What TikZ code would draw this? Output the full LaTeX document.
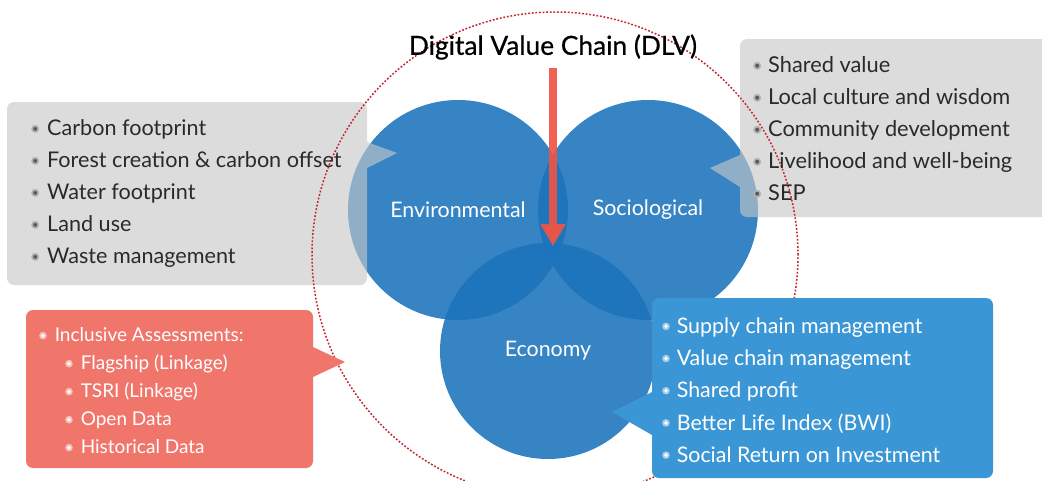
\documentclass[tikz,border=0pt]{standalone}
\usepackage{fontspec}
\setmainfont{Lato}
\newfontfamily\titlefont{Lato}[FakeBold=0.7]
\usetikzlibrary{arrows.meta}
\definecolor{vennblue}{HTML}{1C74BC}
\definecolor{boxblue}{HTML}{3A96D5}
\definecolor{boxred}{HTML}{F0766C}
\definecolor{boxgray}{HTML}{C8C8C8}
\definecolor{arrowred}{HTML}{EE5546}
\definecolor{dashred}{HTML}{C4262E}
\definecolor{textdark}{HTML}{2A2A2A}
\newcommand\gbul{\tikz[baseline=-0.33em]{\fill[black!30] (0,0) circle (4pt); \fill[black!65] (0,0) circle (2pt);}}
\newcommand\wbul{\tikz[baseline=-0.33em]{\fill[white, opacity=0.55] (0,0) circle (3.8pt); \fill[white] (0,0) circle (1.9pt);}}
\tikzset{
  venn/.style={circle, fill=vennblue, fill opacity=0.88, text opacity=1, text=white, inner sep=0pt,
    font=\fontsize{21.4}{24}\selectfont},
  graycall/.style={fill=boxgray, fill opacity=0.62},
  redcall/.style={fill=boxred},
  bluecall/.style={fill=boxblue},
  darklist/.style={align=left, inner sep=0pt, text=textdark, anchor=west},
  lightlist/.style={align=left, inner sep=0pt, text=white, anchor=west},
  dashring/.style={draw=dashred, line width=1.5pt, dash pattern=on 1.8pt off 1.8pt},
  dlvarrow/.style={draw=arrowred, line width=8pt, opacity=0.92, -{Triangle[width=24pt,length=22pt]}}
}
\begin{document}
\begin{tikzpicture}[x=1pt,y=-1pt]
\useasboundingbox (0,0) rectangle (1042,480);
\clip (0,0) rectangle (1042,480);
\fill[white] (0,0) rectangle (1042,480);

% Venn circles
\node[venn, minimum size=220pt] (env) at (458,210) {Environmental};
\node[venn, minimum size=220pt] (soc) at (648,210) {Sociological};
\node[venn, minimum size=216pt] (eco) at (548,351) {Economy};

% gray callouts (translucent)
\fill[graycall] (7,190) [rounded corners=7pt] -- (7,102) -- (367,102) [sharp corners] -- (367,142) -- (397,153) -- (367,168) [rounded corners=7pt] -- (367,285) -- (7,285) -- cycle;
\fill[graycall] (1060,120) [rounded corners=7pt] -- (1060,39) -- (740,39) [sharp corners] -- (740,155) -- (710,168) -- (740,187) [rounded corners=7pt] -- (740,217) -- (1060,217) -- cycle;

% dashed ring
\draw[dashring] (555,255) circle (243pt);

% red and blue callouts
\fill[redcall] (26,390) [rounded corners=7pt] -- (26,310) -- (313,310) [sharp corners] -- (313,347) -- (345,362) -- (313,377) [rounded corners=7pt] -- (313,468) -- (26,468) -- cycle;
\fill[bluecall] (800,298) [rounded corners=7pt] -- (993,298) -- (993,478) -- (652,478) [sharp corners] -- (652,435) -- (612,412) -- (652,392) [rounded corners=7pt] -- (652,298) -- cycle;

% title and arrow
\node[font=\titlefont\fontsize{26.3}{30}\selectfont, text=black, inner sep=0pt] (title) at (553,47) {Digital Value Chain (DLV)};
\coordinate (astart) at (553,68);
\coordinate (aend) at (553,246);
\draw[dlvarrow] (astart) -- (aend);

% lists
\node[darklist, font=\fontsize{21.6}{32}\selectfont] (envlist) at (31,194) {\gbul\hspace{8pt}Carbon footprint\\
\gbul\hspace{8pt}Forest creation \& carbon offset\\
\gbul\hspace{8pt}Water footprint\\
\gbul\hspace{8pt}Land use\\
\gbul\hspace{8pt}Waste management};

\node[darklist, font=\fontsize{21.8}{32}\selectfont] (soclist) at (753,129) {\gbul\hspace{7pt}Shared value\\
\gbul\hspace{7pt}Local culture and wisdom\\
\gbul\hspace{7pt}Community development\\
\gbul\hspace{7pt}Livelihood and well-being\\
\gbul\hspace{7pt}SEP};

\node[lightlist, font=\fontsize{19}{28}\selectfont] (assess) at (39,391) {\wbul\hspace{8pt}Inclusive Assessments:\\
\hspace*{26pt}\wbul\hspace{8pt}Flagship (Linkage)\\
\hspace*{26pt}\wbul\hspace{8pt}TSRI (Linkage)\\
\hspace*{26pt}\wbul\hspace{8pt}Open Data\\
\hspace*{26pt}\wbul\hspace{8pt}Historical Data};

\node[lightlist, font=\fontsize{21.4}{32.2}\selectfont] (ecolist) at (662,390) {\wbul\hspace{7pt}Supply chain management\\
\wbul\hspace{7pt}Value chain management\\
\wbul\hspace{7pt}Shared profit\\
\wbul\hspace{7pt}Better Life Index (BWI)\\
\wbul\hspace{7pt}Social Return on Investment};
\end{tikzpicture}
\end{document}
